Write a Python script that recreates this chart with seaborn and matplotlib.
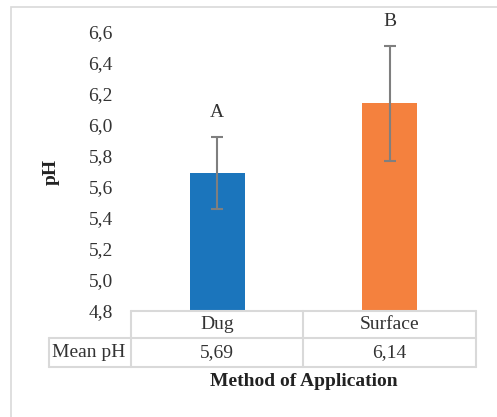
import matplotlib
matplotlib.use("Agg")
import matplotlib.pyplot as plt
import seaborn as sns
import pandas as pd
from matplotlib.patches import Rectangle
from matplotlib.lines import Line2D

# Data
methods = ["Dug", "Surface"]
mean_ph = [5.69, 6.14]
ph_err = [0.235, 0.37]
letters = ["A", "B"]
yticks = [4.8, 5.0, 5.2, 5.4, 5.6, 5.8, 6.0, 6.2, 6.4, 6.6]
colors = ["#1b75bc", "#f4813e"]

sns.set_theme(style="white")
plt.rcParams["font.family"] = ["Liberation Serif", "DejaVu Serif"]

FS = 14
W, H = 497, 417
fig = plt.figure(figsize=(W / 100, H / 100), dpi=100)
ax = fig.add_axes([131 / W, 1 - 311 / H, 345 / W, (311 - 32) / H])

df = pd.DataFrame({"method": methods, "ph": mean_ph})
sns.barplot(data=df, x="method", y="ph", hue="method", palette=colors,
            width=0.32, legend=False, ax=ax, saturation=1, linewidth=0)
ax.errorbar(range(len(methods)), mean_ph, yerr=ph_err, fmt="none",
            ecolor="#7f7f7f", elinewidth=1.5, capsize=4, capthick=1.5)
for i, (m, e, t) in enumerate(zip(mean_ph, ph_err, letters)):
    ax.text(i, m + e + 0.1, t, ha="center", va="bottom", fontsize=FS,
            color="#333333", clip_on=False)

ax.set_ylim(4.8, 6.6)
ax.set_xlim(-0.5, 1.5)
ax.set_yticks(yticks)
ax.set_yticklabels([f"{v:.1f}".replace(".", ",") for v in yticks],
                   fontsize=FS, color="#333333")
ax.tick_params(axis="y", length=0, pad=13)
ax.set_xticks([])
ax.set_xlabel("")
ax.set_ylabel("pH", fontsize=FS, fontweight="bold", color="#222222")
ax.yaxis.set_label_coords((60 - 131) / 345, 0.5)
for s in ax.spines.values():
    s.set_visible(False)

# Data table beneath the bars (figure pixel coordinates)
def fx(px):
    return px / W

def fy(py):
    return 1 - py / H

grid = "#d9d9d9"
lw = 1.5
segs = [
    ((131, 311), (476, 311)),
    ((49, 338), (476, 338)),
    ((49, 367), (476, 367)),
    ((131, 311), (131, 367)),
    ((303, 311), (303, 367)),
    ((476, 311), (476, 367)),
    ((49, 338), (49, 367)),
]
for (x0, y0), (x1, y1) in segs:
    fig.add_artist(Line2D([fx(x0), fx(x1)], [fy(y0), fy(y1)], color=grid, lw=lw))

col_centers = [217, 389.5]
for c, m, v in zip(col_centers, methods, mean_ph):
    fig.text(fx(c), fy(324.5), m, ha="center", va="center", fontsize=FS, color="#333333")
    fig.text(fx(c), fy(352.5), f"{v:.2f}".replace(".", ","), ha="center", va="center",
             fontsize=FS, color="#333333")
fig.text(fx(89), fy(352.5), "Mean pH", ha="center", va="center", fontsize=FS, color="#333333")

fig.text(fx(303.5), fy(382), "Method of Application", ha="center", va="center",
         fontsize=FS, fontweight="bold", color="#222222")

# Chart frame
fig.add_artist(Rectangle((fx(11), fy(430)), fx(520 - 11), fy(7) - fy(430),
                         fill=False, edgecolor=grid, lw=1.2))

fig.savefig("out.png", dpi=100)
